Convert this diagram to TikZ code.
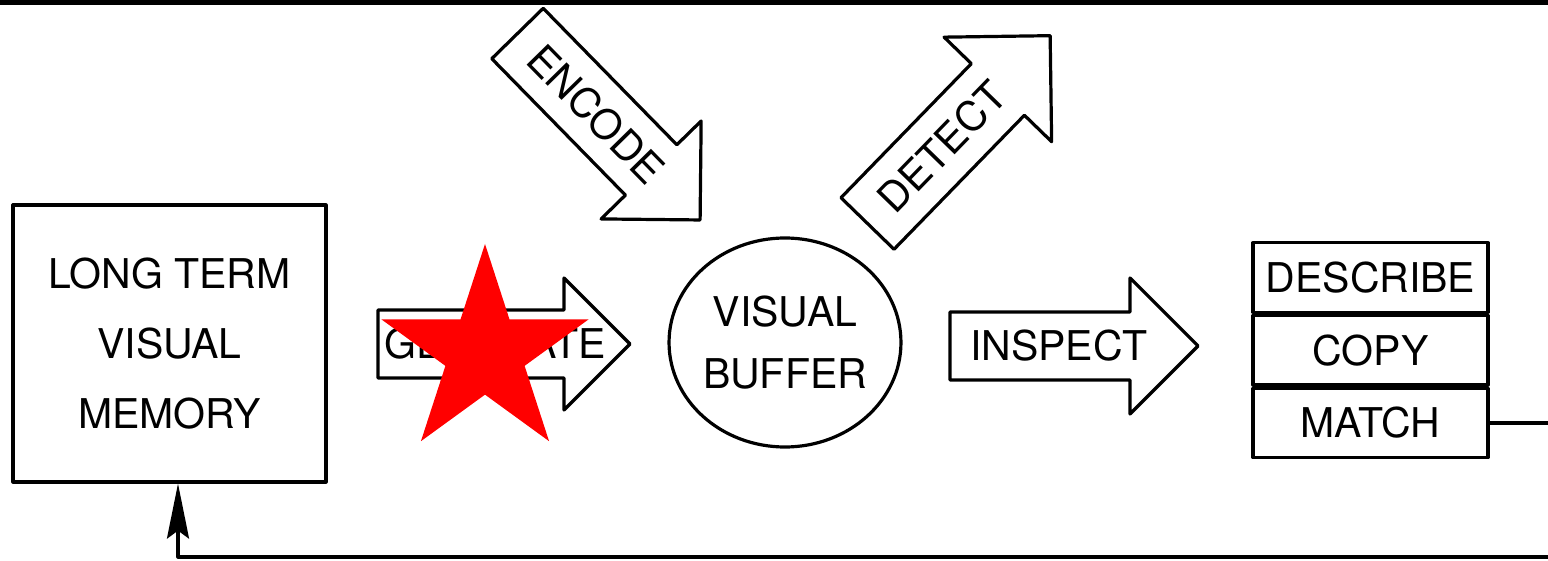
\documentclass[tikz,border=0pt]{standalone}
\usepackage{fontspec}
\setmainfont{TeX Gyre Heros}
\usetikzlibrary{arrows.meta,positioning,shapes.geometric}

\begin{document}
\begin{tikzpicture}[x=1pt,y=-1pt,line width=3.2pt,line join=round,
  every node/.style={font=\fontsize{41}{70}\selectfont},
  cell/.style={draw,minimum width=235pt,minimum height=69.5pt,inner sep=0pt}]
\useasboundingbox (0,0) rectangle (1548,561);
\clip (0,0) rectangle (1548,561);
\fill (0,0) rectangle (1548,5);
% memory and buffer
\node[draw,align=center,minimum width=313pt,minimum height=277pt] (ltm) at (169.5,343.5)
  {LONG TERM\\VISUAL\\MEMORY};
\node[draw,ellipse,align=center,inner sep=0pt,minimum width=230pt,minimum height=209pt,
  font=\fontsize{41}{62}\selectfont] (buffer) at (785,342.5) {VISUAL\\BUFFER};
% processes: name/text/tail x/tail y/angle/length/body/head/text pos
\foreach \name/\txt/\x/\y/\ang/\len/\bw/\hw/\at in {
  generate/GENERATE/378/344/0/252/34/66/117,
  inspect/INSPECT/950/346/0/248/34/68/109,
  encode/ENCODE/517.5/33.5/-45.6/261/36/70/113,
  detect/DETECT/867.5/223.5/45.8/262/37/75/107}{
  \begin{scope}[shift={(\x,\y)},rotate=\ang]
    \draw (0,-\bw) -- (\len-\hw,-\bw) -- (\len-\hw,-\hw) -- (\len,0)
      -- (\len-\hw,\hw) -- (\len-\hw,\bw) -- (0,\bw) -- cycle;
    \node[rotate=\ang] (\name) at (\at,0) {\txt};
  \end{scope}
}
\node[star,star points=5,star point ratio=2.618,fill=red,minimum size=218pt,inner sep=0pt]
  (mark) at (485,353) {};
% uses
\node[cell] (describe) at (1370.5,277.5) {DESCRIBE};
\node[cell,below=0pt of describe] (copy) {COPY};
\node[cell,below=0pt of copy] (match) {MATCH};
\coordinate (back) at (178,557);
\draw[{Stealth[length=55pt,width=22pt,inset=8pt]}-] (ltm.south -| back) -- (back)
  -| ([xshift=80pt]match.east) -- (match.east);
\end{tikzpicture}
\end{document}
